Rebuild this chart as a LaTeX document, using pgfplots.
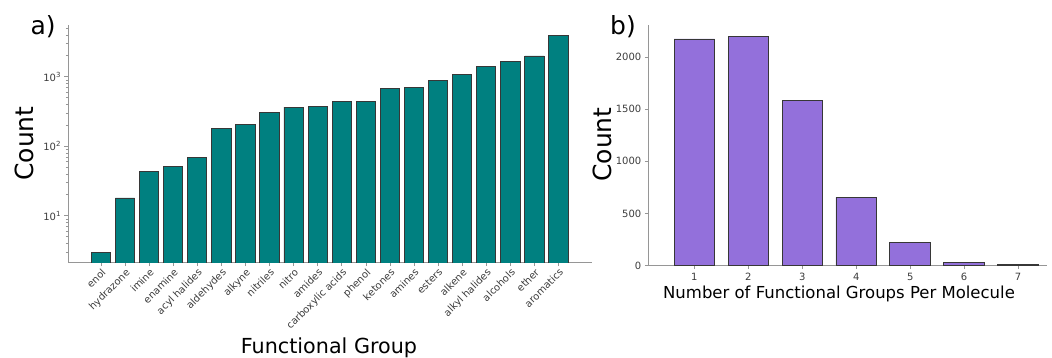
\documentclass[border=0pt]{standalone}
\usepackage{fontspec}
\setmainfont{DejaVu Sans}
\usepackage{pgfplots}
\pgfplotsset{compat=1.18}
\definecolor{tealc}{RGB}{0,128,128}
\definecolor{mpurple}{RGB}{147,112,219}
\definecolor{spinec}{RGB}{150,150,150}
\definecolor{tickc}{RGB}{60,60,60}
\definecolor{edgec}{RGB}{55,55,55}
\begin{document}
\begin{tikzpicture}
\useasboundingbox (0,0) rectangle (1052pt,358pt);
\pgfplotsset{
  common/.style={
    scale only axis,
    axis x line*=bottom, axis y line*=left,
    axis line style={-, spinec, line width=0.9pt},
    tick align=outside,
    major tick length=3.5pt, minor tick length=2pt,
    every tick/.style={spinec, line width=0.7pt},
    tick label style={font=\fontsize{10}{12}\selectfont, text=tickc},
    /pgf/number format/assume math mode=true,
    /pgf/number format/1000 sep={},
    ybar, bar shift=0pt,
  }
}
% Panel a
\begin{axis}[common,
  at={(68pt,95.3pt)}, anchor=south west,
  width=523.7pt, height=237.7pt,
  ymode=log, ymin=2.11, ymax=5550,
  xmin=-1.37, xmax=20.38,
  bar width=0.8,
  xtick={0,...,19},
  xticklabels={enol,hydrazone,imine,enamine,acyl halides,aldehydes,alkyne,nitriles,nitro,amides,carboxylic acids,phenol,ketones,amines,esters,alkene,alkyl halides,alcohols,ether,aromatics},
  xticklabel style={rotate=45, anchor=north east, inner sep=1pt},
  ytick={10,100,1000},
  yticklabels={10\textsuperscript{1},10\textsuperscript{2},10\textsuperscript{3}},
  minor ytick={3,4,5,6,7,8,9,20,30,40,50,60,70,80,90,200,300,400,500,600,700,800,900,2000,3000,4000,5000},
]
\addplot[fill=tealc, draw=edgec, line width=0.9pt] coordinates {
(0,3) (1,18) (2,44) (3,51) (4,68) (5,181) (6,208) (7,302) (8,364) (9,377)
(10,437) (11,435) (12,687) (13,711) (14,887) (15,1083) (16,1425) (17,1667) (18,1987) (19,3890)
};
\end{axis}
% Panel b
\begin{axis}[common,
  at={(648.3pt,92.3pt)}, anchor=south west,
  width=398.4pt, height=240.7pt,
  ymin=0, ymax=2307,
  xmin=0.147, xmax=7.53,
  bar width=0.75,
  xtick={1,...,7},
  ytick={0,500,1000,1500,2000},
]
\addplot[fill=mpurple, draw=edgec, line width=0.9pt] coordinates {
(1,2173) (2,2198) (3,1586) (4,654) (5,225) (6,33) (7,8)
};
\end{axis}
\node[anchor=base west, font=\fontsize{25}{30}\selectfont] at (27pt,323pt) {a)};
\node[anchor=base west, font=\fontsize{25}{30}\selectfont] at (606.7pt,323pt) {b)};
\node[anchor=base, rotate=90, font=\fontsize{25}{30}\selectfont] at (33pt,214.5pt) {Count};
\node[anchor=base, rotate=90, font=\fontsize{25}{30}\selectfont] at (611.7pt,213.5pt) {Count};
\node[anchor=base, font=\fontsize{20.7}{24}\selectfont, inner sep=0pt] at (329pt,4pt) {Functional Group};
\node[anchor=base, font=\fontsize{16.5}{20}\selectfont, inner sep=0pt] at (839pt,59.7pt) {Number of Functional Groups Per Molecule};
\end{tikzpicture}
\end{document}
